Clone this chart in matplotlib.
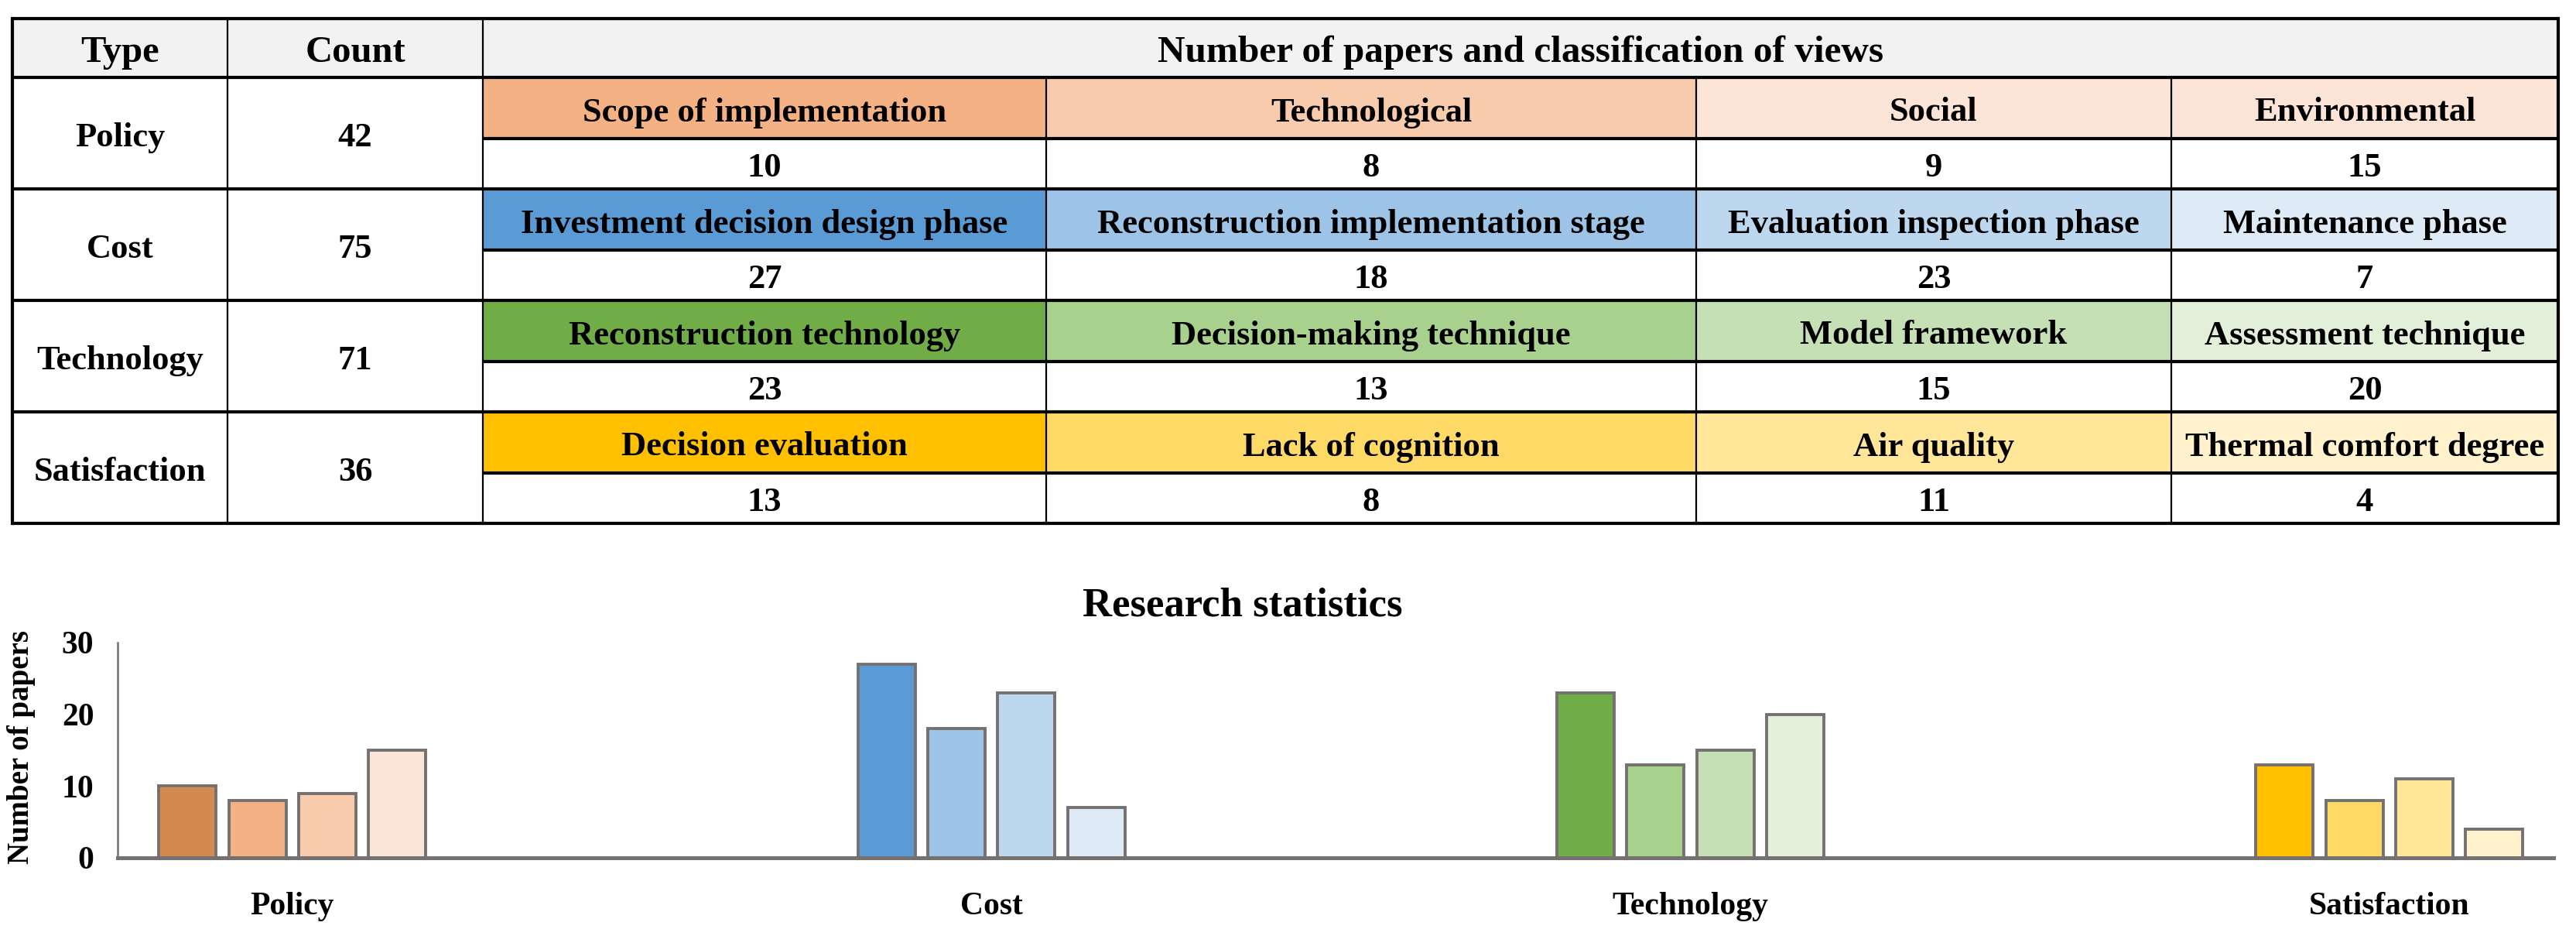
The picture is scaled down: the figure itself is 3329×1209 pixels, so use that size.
import matplotlib
matplotlib.use("Agg")
import matplotlib.pyplot as plt
from matplotlib.patches import Rectangle
import numpy as np

plt.rcParams['font.family'] = ['Liberation Serif', 'DejaVu Serif']
plt.rcParams['font.weight'] = 'bold'

# ---- data ----
types = ['Policy', 'Cost', 'Technology', 'Satisfaction']
counts = [42, 75, 71, 36]
views = [
    ['Scope of implementation', 'Technological', 'Social', 'Environmental'],
    ['Investment decision design phase', 'Reconstruction implementation stage',
     'Evaluation inspection phase', 'Maintenance phase'],
    ['Reconstruction technology', 'Decision-making technique',
     'Model framework', 'Assessment technique'],
    ['Decision evaluation', 'Lack of cognition', 'Air quality',
     'Thermal comfort degree'],
]
papers = [
    [10, 8, 9, 15],
    [27, 18, 23, 7],
    [23, 13, 15, 20],
    [13, 8, 11, 4],
]
cell_colors = [
    ['#F4B183', '#F8CBAD', '#FCE4D6', '#FCE4D6'],
    ['#5B9BD5', '#9DC3E6', '#BDD7EE', '#DEEBF7'],
    ['#70AD47', '#A9D18E', '#C5E0B4', '#E2F0D9'],
    ['#FFC000', '#FFD966', '#FFE699', '#FFF2CC'],
]
bar_colors = [
    ['#D4894F', '#F4B183', '#F8CBAD', '#FBE5D6'],
    ['#5B9BD5', '#9DC3E6', '#BDD7EE', '#DEEBF7'],
    ['#70AD47', '#A9D18E', '#C5E0B4', '#E2F0D9'],
    ['#FFC000', '#FFD966', '#FFE699', '#FFF2CC'],
]
header_type = 'Type'
header_count = 'Count'
header_views = 'Number of papers and classification of views'
chart_title = 'Research statistics'
y_label = 'Number of papers'

# ---- layout (pixels) ----
W, H = 3329, 1209
col_x = [16, 294, 624, 1352, 2192, 2806, 3306]
top, head_bot = 24, 100
row_h = 144
sub_h = 79
dy = 6  # nudge text down a little, descenders make va=center look high

fig = plt.figure(figsize=(W / 100, H / 100), dpi=100)

tab = fig.add_axes([0, 0, 1, 1])
tab.set_xlim(0, W)
tab.set_ylim(H, 0)
tab.axis('off')

# header row
tab.add_patch(Rectangle((col_x[0], top), col_x[-1] - col_x[0], head_bot - top,
                        facecolor='#F2F2F2', edgecolor='none'))
hy = (top + head_bot) / 2 + dy
tab.text((col_x[0] + col_x[1]) / 2, hy, header_type, ha='center', va='center', fontsize=35)
tab.text((col_x[1] + col_x[2]) / 2, hy, header_count, ha='center', va='center', fontsize=35)
tab.text((col_x[2] + col_x[-1]) / 2, hy, header_views, ha='center', va='center', fontsize=35.5)

thick = 3.0
thin = 1.6
for i, t in enumerate(types):
    y0 = head_bot + i * row_h
    y1 = y0 + row_h
    ym = y0 + sub_h
    tab.text((col_x[0] + col_x[1]) / 2, (y0 + y1) / 2 + dy, t, ha='center', va='center', fontsize=32)
    tab.text((col_x[1] + col_x[2]) / 2, (y0 + y1) / 2 + dy, str(counts[i]),
             ha='center', va='center', fontsize=32)
    for j in range(4):
        x0, x1 = col_x[2 + j], col_x[3 + j]
        tab.add_patch(Rectangle((x0, y0), x1 - x0, sub_h,
                                facecolor=cell_colors[i][j], edgecolor='none'))
        tab.text((x0 + x1) / 2, y0 + sub_h / 2 + dy, views[i][j],
                 ha='center', va='center', fontsize=32)
        tab.text((x0 + x1) / 2, ym + (row_h - sub_h) / 2 + dy, str(papers[i][j]),
                 ha='center', va='center', fontsize=32)
    # horizontal lines
    tab.plot([col_x[2], col_x[-1]], [ym, ym], color='black', lw=thick, solid_capstyle='butt')
    tab.plot([col_x[0], col_x[-1]], [y1, y1], color='black', lw=thick, solid_capstyle='butt')
    for x in col_x[3:-1]:
        tab.plot([x, x], [y0, y1], color='black', lw=thin)

tab_bot = head_bot + 4 * row_h
tab.plot([col_x[0], col_x[-1]], [top, top], color='black', lw=thick, solid_capstyle='butt')
tab.plot([col_x[0], col_x[-1]], [head_bot, head_bot], color='black', lw=thick, solid_capstyle='butt')
tab.plot([col_x[0], col_x[0]], [top, tab_bot], color='black', lw=thick)
tab.plot([col_x[-1], col_x[-1]], [top, tab_bot], color='black', lw=thick)
for x in col_x[1:3]:
    tab.plot([x, x], [top, tab_bot], color='black', lw=thin)

# ---- bar chart ----
ax_left, ax_right = 152, 3300
ax_top, ax_bot = 830, 1108
ax = fig.add_axes([ax_left / W, (H - ax_bot) / H,
                   (ax_right - ax_left) / W, (ax_bot - ax_top) / H])
x = np.arange(len(types))
width = 0.082
offsets = [-0.15, -0.05, 0.05, 0.15]
for j in range(4):
    vals = [papers[i][j] for i in range(len(types))]
    cols = [bar_colors[i][j] for i in range(len(types))]
    ax.bar(x + offsets[j], vals, width, color=cols, edgecolor='#767171', linewidth=2.8)

ax.set_xlim(-0.25, 3.235)
ax.set_ylim(0, 30)
ax.set_yticks([0, 10, 20, 30])
ax.set_xticks(x)
ax.set_xticklabels(types, fontsize=30)
ax.tick_params(axis='y', length=0, pad=22, labelsize=30)
ax.tick_params(axis='x', length=0, pad=32)
for s in ['top', 'right']:
    ax.spines[s].set_visible(False)
ax.spines['left'].set_color('#767171')
ax.spines['left'].set_linewidth(1.8)
ax.spines['bottom'].set_color('#767171')
ax.spines['bottom'].set_linewidth(3.6)

fig.text(1606 / W, 1 - 783 / H, chart_title, ha='center', va='center', fontsize=38)
fig.text(28 / W, 1 - 965 / H, y_label, ha='center', va='center', rotation=90, fontsize=28)

fig.savefig('out.png', dpi=100, facecolor='white')
